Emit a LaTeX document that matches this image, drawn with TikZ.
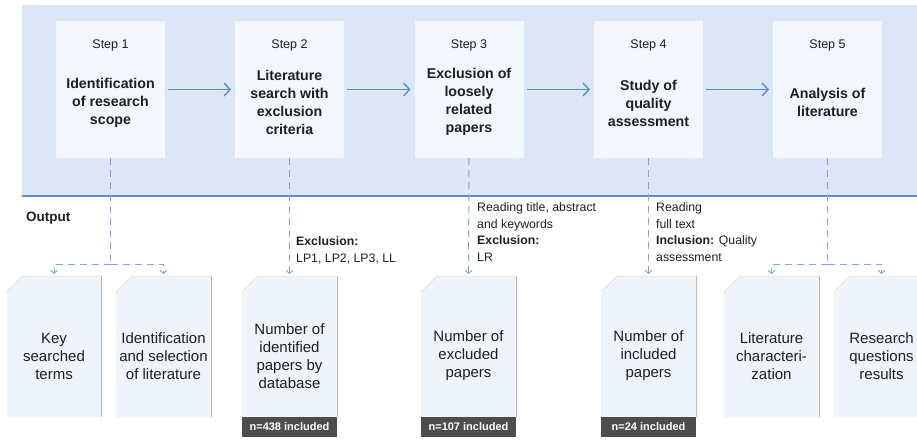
\documentclass[tikz,border=0pt]{standalone}
\usepackage{fontspec}
\setmainfont{Liberation Sans}
\usepackage{xcolor}
\usepackage{tikz}
\usetikzlibrary{arrows.meta, positioning}

\definecolor{bandfill}{HTML}{DDE6F6}
\definecolor{boxfill}{HTML}{F3F7FD}
\definecolor{docfill}{HTML}{EFF4FB}
\definecolor{flowblue}{HTML}{5B8DD6}
\definecolor{linkblue}{HTML}{7FA6DE}
\definecolor{footgray}{HTML}{4D4D4D}
\definecolor{ink}{HTML}{1F1F1F}

% paper sheet behind a doc node
\newcommand{\docshape}[1]{%
  \fill[docfill] ([yshift=-16pt]#1.north west) -- ([xshift=16pt]#1.north west)
    -- (#1.north east) -- (#1.south east) -- (#1.south west) -- cycle;
  \draw[draw=gray!30, line width=0.5pt] ([yshift=-16pt]#1.north west)
    -- ([xshift=16pt]#1.north west) -- (#1.north east);
  \draw[draw=gray!55, line width=0.7pt] (#1.north east) -- (#1.south east);}

\begin{document}
\begin{tikzpicture}[x=1pt, y=-1pt, >=Stealth,
    stepbox/.style={fill=boxfill, minimum width=109pt, minimum height=137pt, inner sep=0pt, outer sep=0pt},
    steplab/.style={font=\fontsize{12.5}{15}\selectfont, anchor=base, text=ink, inner sep=0pt},
    steptitle/.style={font=\fontsize{14.2}{18}\selectfont\bfseries, align=center, text=ink, inner sep=0pt},
    docbox/.style={minimum width=95pt, minimum height=141pt, inner sep=0pt, outer sep=0pt},
    doctext/.style={font=\fontsize{15}{18}\selectfont, align=center, text=ink, inner sep=0pt},
    footer/.style={fill=footgray, text=white, font=\fontsize{11}{13}\selectfont\bfseries,
      minimum width=95pt, minimum height=20pt, inner sep=0pt, outer sep=0pt},
    note/.style={font=\fontsize{12.3}{16.4}\selectfont, align=left, text=ink, inner sep=0pt, anchor=base west},
    flow/.style={draw=flowblue, line width=1.4pt, shorten <=3pt, shorten >=4pt,
      -{Straight Barb[length=6pt, width=13pt, line width=1.4pt]}},
    link/.style={draw=linkblue, line width=1pt, dash pattern=on 7pt off 5pt},
    linkarrow/.style={link, shorten >=2pt, -{Straight Barb[length=3pt, width=7pt, line width=1pt]}}]

  \useasboundingbox (0,0) rectangle (917,439);
  \clip (0,0) rectangle (917,439);

  % band of steps
  \fill[bandfill] (22,5) rectangle (917,196);
  \draw[flowblue, line width=1.5pt] (22,196) -- (917,196);
  \node[font=\fontsize{13.5}{16}\selectfont\bfseries, text=ink, anchor=base west, inner sep=0pt] (out) at (26,221) {Output};

  % Step 1
  \node[stepbox] (s1) at (110.5,89.5) {};
  \node[steplab] (s1lab) at (110.5,48) {Step 1};
  \node[steptitle] (s1ttl) at (110.5,103) {Identification\\of research\\scope};
  % Step 2
  \node[stepbox] (s2) at (289.5,89.5) {};
  \node[steplab] (s2lab) at (289.5,48) {Step 2};
  \node[steptitle] (s2ttl) at (289.5,102) {Literature\\search with\\exclusion\\criteria};
  % Step 3
  \node[stepbox] (s3) at (469,89.5) {};
  \node[steplab] (s3lab) at (469,48) {Step 3};
  \node[steptitle] (s3ttl) at (469,102) {Exclusion of\\loosely\\related\\papers};
  % Step 4
  \node[stepbox] (s4) at (648.5,89.5) {};
  \node[steplab] (s4lab) at (648.5,48) {Step 4};
  \node[steptitle] (s4ttl) at (648.5,103) {Study of\\quality\\assessment};
  % Step 5
  \node[stepbox] (s5) at (827.5,89.5) {};
  \node[steplab] (s5lab) at (827.5,48) {Step 5};
  \node[steptitle] (s5ttl) at (827.5,102) {Analysis of\\literature};

  % flow between steps
  \draw[flow] (s1) -- (s2);
  \draw[flow] (s2) -- (s3);
  \draw[flow] (s3) -- (s4);
  \draw[flow] (s4) -- (s5);

  % Outputs
  \node[docbox] (d1) at (54,346.5) {};
  \docshape{d1}
  \node[doctext] (t1) at ([yshift=-9.5pt]d1.center) {Key\\searched\\terms};
  \node[docbox] (d2) at (163.5,346.5) {};
  \docshape{d2}
  \node[doctext] (t2) at ([yshift=-9.5pt]d2.center) {Identification\\and selection\\of literature};
  \node[docbox] (d3) at (289.5,346.5) {};
  \docshape{d3}
  \node[doctext] (t3) at ([yshift=-9.5pt]d3.center) {Number of\\identified\\papers by\\database};
  \node[footer, below=0pt of d3] (f3) {n=438 included};
  \node[docbox] (d4) at (468.5,346.5) {};
  \docshape{d4}
  \node[doctext] (t4) at ([yshift=-9.5pt]d4.center) {Number of\\excluded\\papers};
  \node[footer, below=0pt of d4] (f4) {n=107 included};
  \node[docbox] (d5) at (648.5,346.5) {};
  \docshape{d5}
  \node[doctext] (t5) at ([yshift=-9.5pt]d5.center) {Number of\\included\\papers};
  \node[footer, below=0pt of d5] (f5) {n=24 included};
  \node[docbox] (d6) at (771.5,346.5) {};
  \docshape{d6}
  \node[doctext] (t6) at ([yshift=-9.5pt]d6.center) {Literature\\characteri-\\zation};
  \node[docbox] (d7) at (881.5,346.5) {};
  \docshape{d7}
  \node[doctext] (t7) at ([yshift=-9.5pt]d7.center) {Research\\questions\\results};

  % links from steps to outputs
  \coordinate (j1) at (110.5,264);
  \draw[link] (s1) -- (j1);
  \draw[linkarrow] (j1) -| (d1);
  \draw[linkarrow] (j1) -| (d2);
  \draw[linkarrow] (s2) -- (d3);
  \draw[linkarrow] (s3) -- (d4);
  \draw[linkarrow] (s4) -- (d5);
  \coordinate (j5) at (827.5,264);
  \draw[link] (s5) -- (j5);
  \draw[linkarrow] (j5) -| (d6);
  \draw[linkarrow] (j5) -| (d7);

  % criteria (base = last line)
  \node[note] (n2) at (296,262) {\textbf{Exclusion:}\\LP1, LP2, LP3, LL};
  \node[note] (n3) at (477,261) {Reading title, abstract\\and keywords\\\textbf{Exclusion:}\\LR};
  \node[note] (n4) at (656,261) {Reading\\full text\\\textbf{Inclusion:} Quality\\assessment};
\end{tikzpicture}
\end{document}
